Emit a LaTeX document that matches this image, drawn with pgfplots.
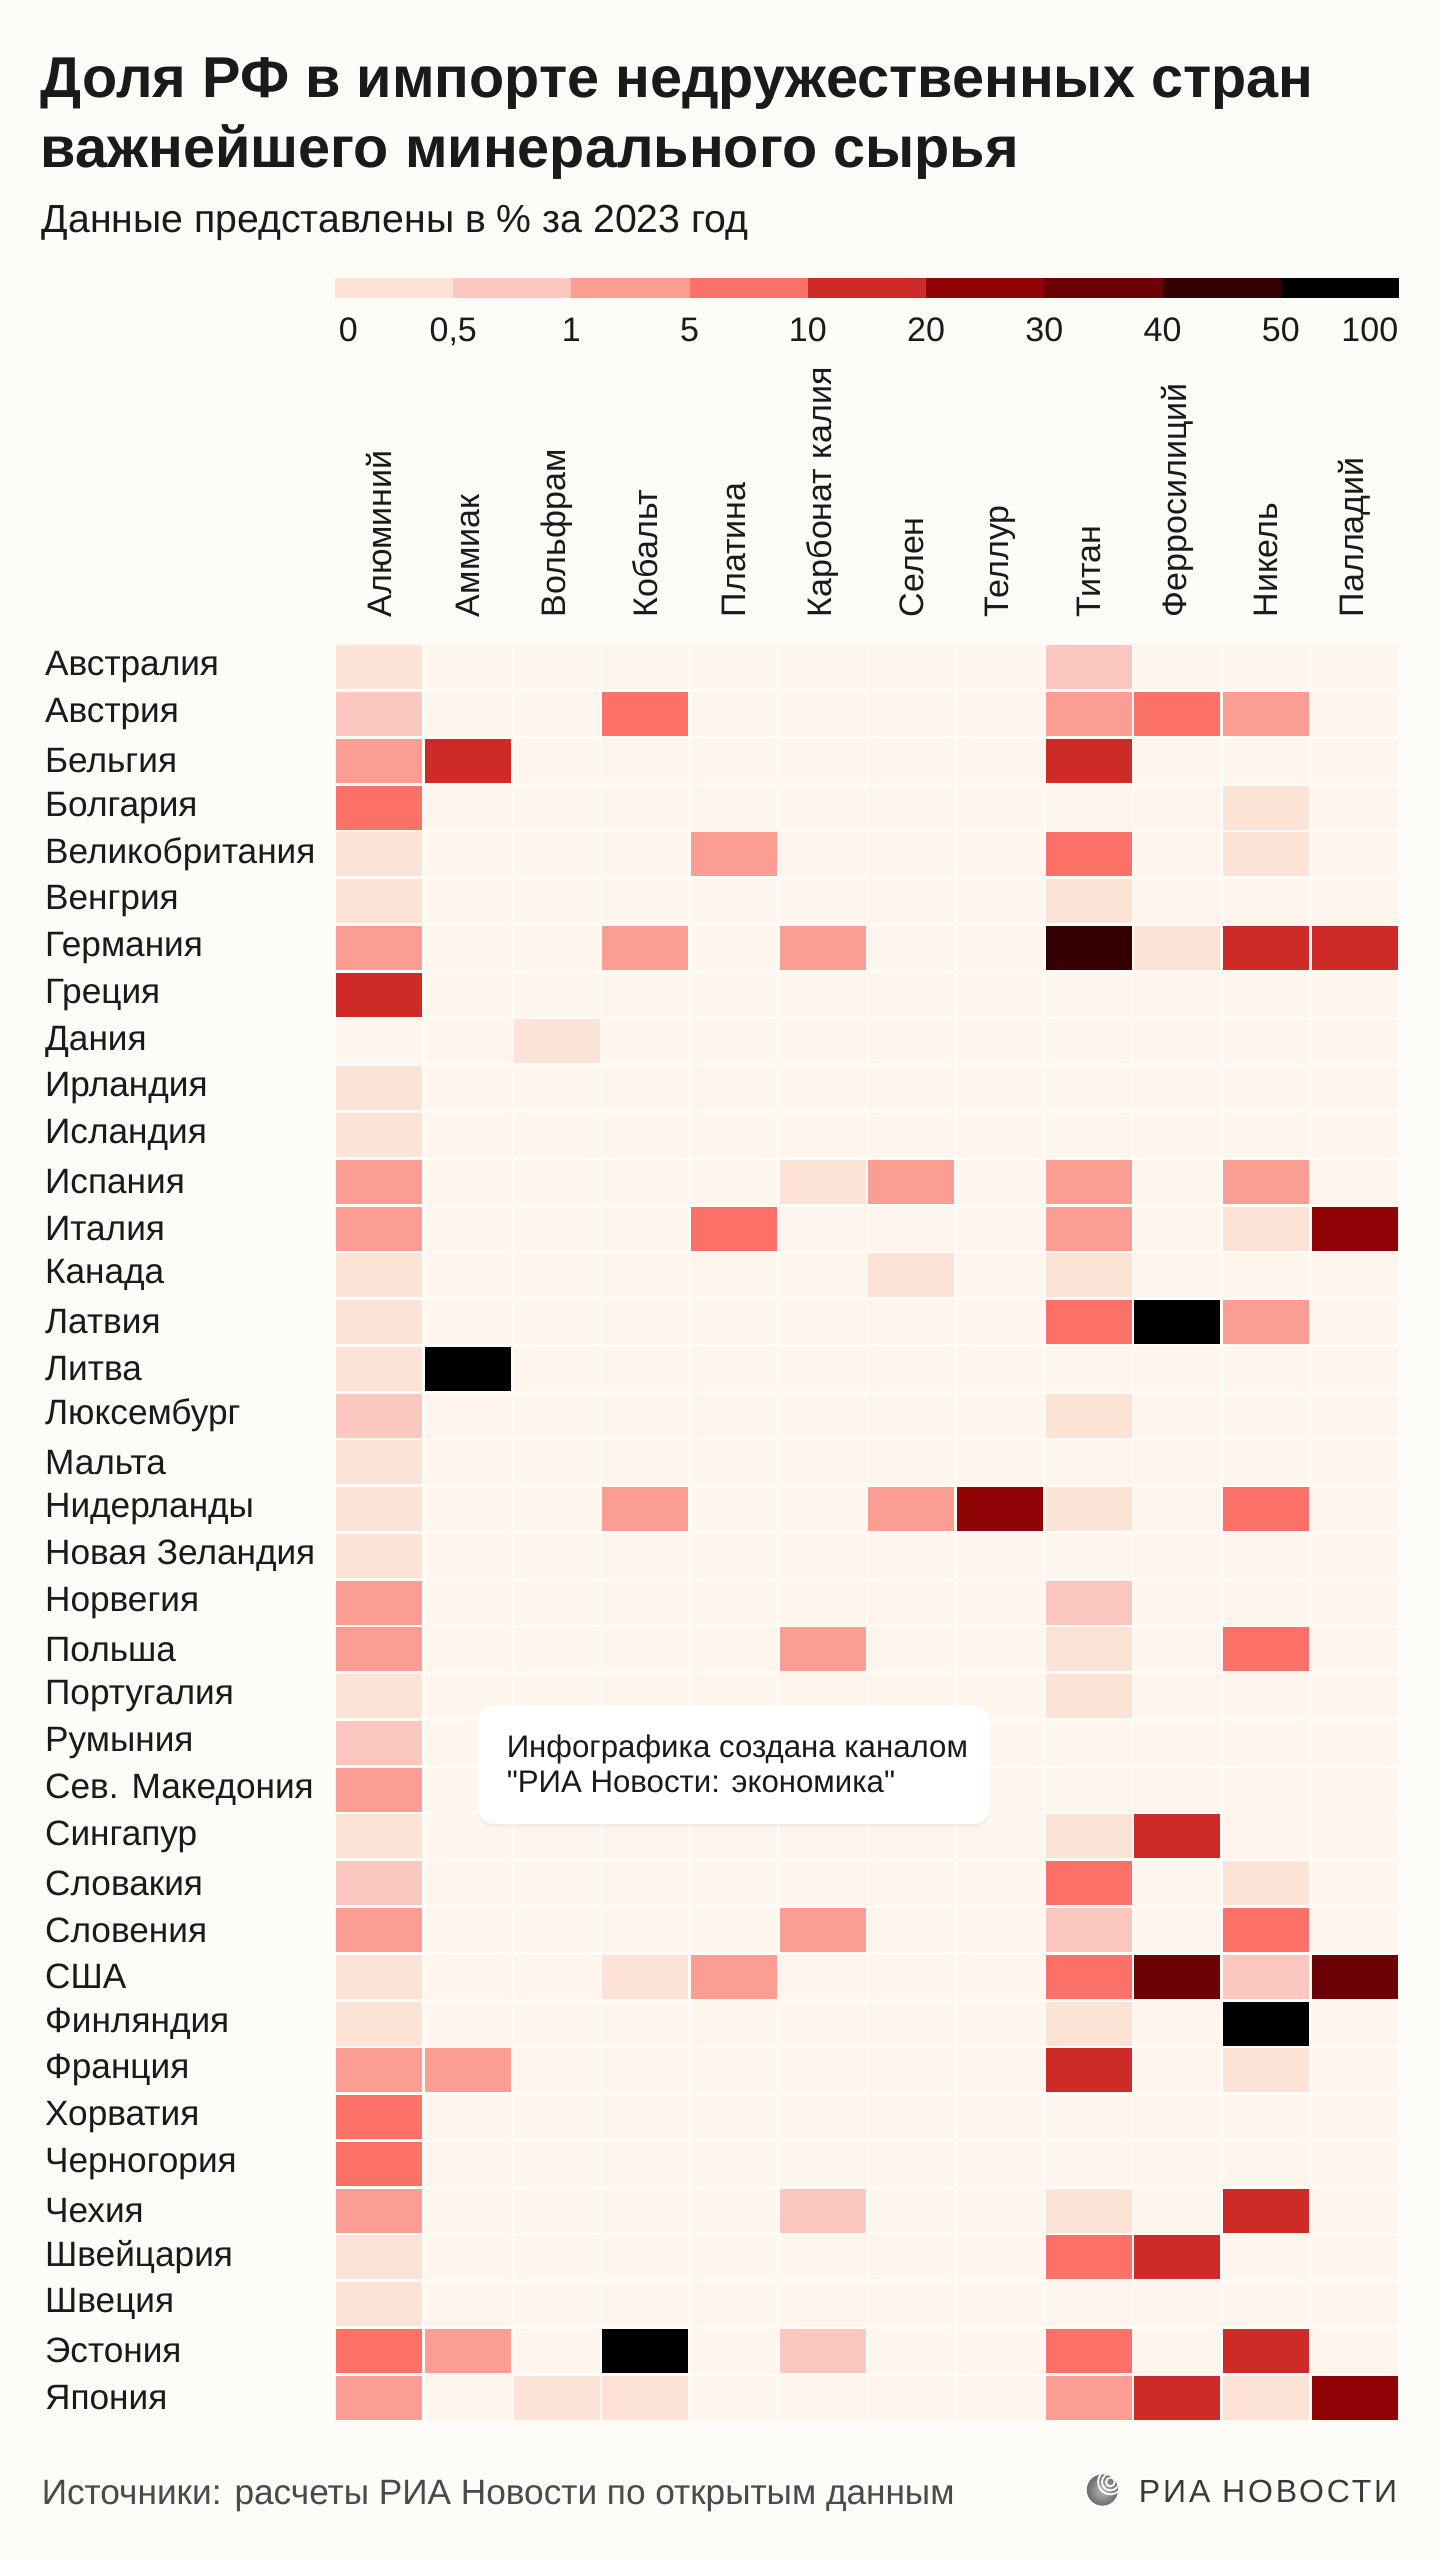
\documentclass[border=0pt]{standalone}
\usepackage{pgfplots}
\pgfplotsset{compat=1.18}
\usepackage{pgfplotstable}
\usepackage{fontspec}
\setmainfont{Liberation Sans}
\newfontfamily\logofont[LetterSpace=9]{Liberation Sans}
\newfontfamily\wmfont{Liberation Sans}
\usetikzlibrary{shadows}

\definecolor{bg}{HTML}{FDFBF7}
\definecolor{ce}{HTML}{FEF6EC}
\definecolor{la}{HTML}{FDE2D6}
\definecolor{lb}{HTML}{FCC7BF}
\definecolor{lc}{HTML}{FB9D92}
\definecolor{ld}{HTML}{FB7168}
\definecolor{le}{HTML}{CE2B28}
\definecolor{lf}{HTML}{910405}
\definecolor{lg}{HTML}{6B0206}
\definecolor{lh}{HTML}{340003}
\definecolor{li}{HTML}{000000}
\definecolor{txt}{HTML}{1A1A1A}
\definecolor{foot}{HTML}{4A4A4A}
\definecolor{logo}{HTML}{3A3A3A}

\pgfmathdeclarefunction{lvl}{1}{%
  \pgfmathparse{(#1>0)+(#1>=0.5)+(#1>=1)+(#1>=5)+(#1>=10)+(#1>=20)+(#1>=30)+(#1>=40)+(#1>=50)+0.5}%
}
\pgfdeclareplotmark{cell}{%
  \pgfpathrectangle{\pgfpoint{-10.73pt}{-5.5pt}}{\pgfpoint{21.46pt}{11pt}}%
  \pgfusepathqfill}

% share of Russia in imports, %, one row per country (Австралия ... Япония)
% columns: Al, NH3, W, Co, Pt, K2CO3, Se, Te, Ti, FeSi, Ni, Pd
\pgfplotstableread{
c0 c1 c2 c3 c4 c5 c6 c7 c8 c9 c10 c11
0.3 0 0 0 0 0 0 0 0.7 0 0 0
0.7 0 0 7 0 0 0 0 3 7 3 0
3 15 0 0 0 0 0 0 15 0 0 0
7 0 0 0 0 0 0 0 0 0 0.3 0
0.3 0 0 0 3 0 0 0 7 0 0.3 0
0.3 0 0 0 0 0 0 0 0.3 0 0 0
3 0 0 3 0 3 0 0 45 0.3 15 15
15 0 0 0 0 0 0 0 0 0 0 0
0 0 0.3 0 0 0 0 0 0 0 0 0
0.3 0 0 0 0 0 0 0 0 0 0 0
0.3 0 0 0 0 0 0 0 0 0 0 0
3 0 0 0 0 0.3 3 0 3 0 3 0
3 0 0 0 7 0 0 0 3 0 0.3 25
0.3 0 0 0 0 0 0.3 0 0.3 0 0 0
0.3 0 0 0 0 0 0 0 7 75 3 0
0.3 75 0 0 0 0 0 0 0 0 0 0
0.7 0 0 0 0 0 0 0 0.3 0 0 0
0.3 0 0 0 0 0 0 0 0 0 0 0
0.3 0 0 3 0 0 3 25 0.3 0 7 0
0.3 0 0 0 0 0 0 0 0 0 0 0
3 0 0 0 0 0 0 0 0.7 0 0 0
3 0 0 0 0 3 0 0 0.3 0 7 0
0.3 0 0 0 0 0 0 0 0.3 0 0 0
0.7 0 0 0 0 0 0 0 0 0 0 0
3 0 0 0 0 0 0 0 0 0 0 0
0.3 0 0 0 0 0 0 0 0.3 15 0 0
0.7 0 0 0 0 0 0 0 7 0 0.3 0
3 0 0 0 0 3 0 0 0.7 0 7 0
0.3 0 0 0.3 3 0 0 0 7 35 0.7 35
0.3 0 0 0 0 0 0 0 0.3 0 75 0
3 3 0 0 0 0 0 0 15 0 0.3 0
7 0 0 0 0 0 0 0 0 0 0 0
7 0 0 0 0 0 0 0 0 0 0 0
3 0 0 0 0 0.7 0 0 0.3 0 15 0
0.3 0 0 0 0 0 0 0 7 15 0 0
0.3 0 0 0 0 0 0 0 0 0 0 0
7 3 0 75 0 0.7 0 0 7 0 15 0
3 0 0.3 0.3 0 0 0 0 3 15 0.3 25
}\heat

\begin{document}
\begin{tikzpicture}
\useasboundingbox (0,0) rectangle (360pt,640pt);
\fill[bg] (0,0) rectangle (360pt,640pt);

\node[anchor=base west, inner sep=0pt, text=txt, font=\fontsize{14.4}{17}\selectfont\bfseries] at (10pt,615.5pt) {Доля РФ в импорте недружественных стран};
\node[anchor=base west, inner sep=0pt, text=txt, font=\fontsize{14.4}{17}\selectfont\bfseries] at (10pt,598pt) {важнейшего минерального сырья};
\node[anchor=base west, inner sep=0pt, text=txt, font=\fontsize{9.8}{12}\selectfont] at (10.25pt,581.75pt) {Данные представлены в \% за 2023 год};

% legend
\foreach \c [count=\i from 0] in {la,lb,lc,ld,le,lf,lg,lh,li}
  \fill[\c] (83.75pt+\i*29.5556pt,565.5pt) rectangle ++(29.5556pt,5pt);
\node[anchor=base west, inner sep=0pt, text=txt, font=\fontsize{8.5}{10}\selectfont] at (84.5pt,554.5pt) {0};
\foreach \l [count=\i from 1] in {{0,5},1,5,10,20,30,40,50}
  \node[anchor=base, inner sep=0pt, text=txt, font=\fontsize{8.5}{10}\selectfont] at (83.75pt+\i*29.5556pt,554.5pt) {\l};
\node[anchor=base east, inner sep=0pt, text=txt, font=\fontsize{8.5}{10}\selectfont] at (349.75pt,554.5pt) {100};

\begin{axis}[
  at={(83.75pt,34.75pt)}, anchor=south west,
  scale only axis, width=266pt, height=444.25pt,
  xmin=-0.5, xmax=11.5, ymin=-0.5, ymax=37.5,
  axis line style={draw=none}, major tick length=0pt,
  xtick={0,...,11}, ytick={0,...,37},
  xticklabel pos=upper,
  xticklabel shift=3.2pt,
  xticklabels={Алюминий,Аммиак,Вольфрам,Кобальт,Платина,Карбонат калия,Селен,Теллур,Титан,Ферросилиций,Никель,Палладий},
  yticklabels={Япония,Эстония,Швеция,Швейцария,Чехия,Черногория,Хорватия,Франция,Финляндия,США,Словения,Словакия,Сингапур,Сев. Македония,Румыния,Португалия,Польша,Норвегия,Новая Зеландия,Нидерланды,Мальта,Люксембург,Литва,Латвия,Канада,Италия,Испания,Исландия,Ирландия,Дания,Греция,Германия,Венгрия,Великобритания,Болгария,Бельгия,Австрия,Австралия},
  xticklabel style={rotate=90, anchor=west, text=txt, font=\fontsize{8.5}{10}\selectfont},
  yticklabel style={anchor=west, xshift=-76pt, text=txt, font=\fontsize{8.8}{10}\selectfont},
  colormap={ria}{color=(ce) color=(la) color=(lb) color=(lc) color=(ld) color=(le) color=(lf) color=(lg) color=(lh) color=(li)},
  colormap access=piecewise constant,
  point meta min=0, point meta max=10,
  clip=false,
]
\pgfplotsinvokeforeach{0,...,11}{
  \addplot[scatter, only marks, mark=cell,
    scatter/use mapped color={draw=none, fill=mapped color},
    point meta={lvl(\thisrow{c#1})}]
    table[x expr=#1, y expr={37-\coordindex}] {\heat};
}
\end{axis}

% watermark box
\fill[white, rounded corners=4pt, drop shadow={opacity=0.08, shadow xshift=0pt, shadow yshift=-0.8pt}] (119.5pt,184pt) rectangle (247.5pt,213.5pt);
\node[anchor=base west, inner sep=0pt, text=txt, font=\fontsize{7.8}{10}\wmfont] at (126.5pt,200.5pt) {Инфографика создана каналом};
\node[anchor=base west, inner sep=0pt, text=txt, font=\fontsize{7.8}{10}\wmfont] at (126.5pt,191.8pt) {"РИА Новости: экономика"};

% footer
\node[anchor=base west, inner sep=0pt, text=foot, font=\fontsize{8.8}{11}\selectfont] at (10.25pt,13.75pt) {Источники: расчеты РИА Новости по открытым данным};
\node[anchor=base east, inner sep=0pt, text=logo, font=\fontsize{8}{10}\logofont] at (349.5pt,14.25pt) {РИА НОВОСТИ};
\begin{scope}
\clip (275.6pt,17.5pt) circle (3.9pt);
\shade[inner color=gray!55, outer color=gray!85!black] (275.6pt,17.5pt) circle (3.9pt);
\foreach \r in {1.1,2.1,3.1}
  \draw[white, line width=0.45pt] (277.6pt,19.5pt) circle (\r pt);
\end{scope}
\end{tikzpicture}
\end{document}
